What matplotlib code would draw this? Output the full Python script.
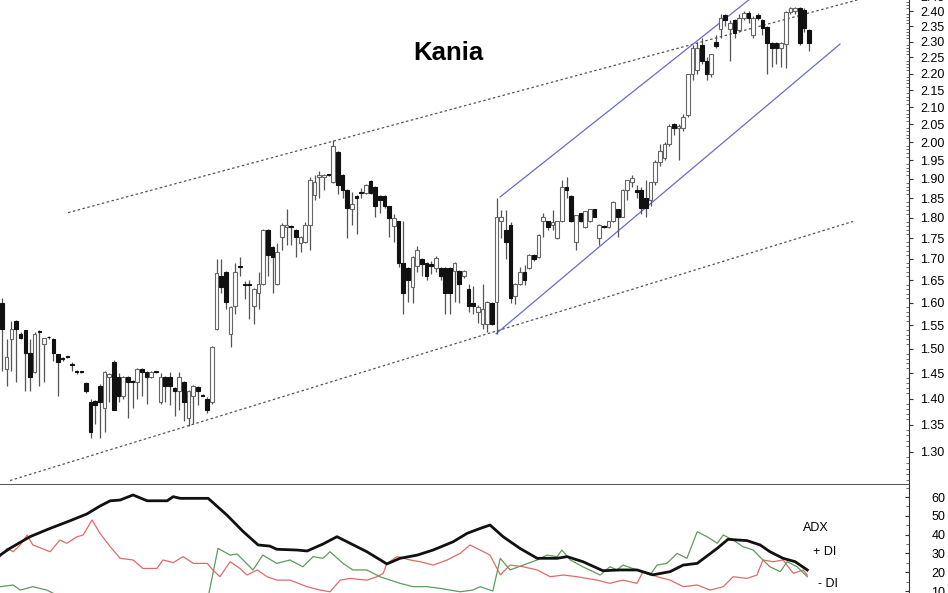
import numpy as np
import matplotlib.pyplot as plt
from matplotlib.ticker import FixedLocator, FixedFormatter, NullFormatter

plt.rcParams['font.family'] = ['Liberation Sans', 'DejaVu Sans']

# daily OHLC
opens = [1.600, 1.459, 1.521, 1.560, 1.532, 1.540, 1.492, 1.453, 1.536, 1.510,
         1.525, 1.521, 1.490, 1.480, 1.484, 1.468, 1.453, 1.453, 1.431, 1.394,
         1.396, 1.424, 1.381, 1.443, 1.472, 1.443, 1.404, 1.443, 1.433, 1.433,
         1.459, 1.453, 1.443, 1.453, 1.394, 1.443, 1.443, 1.420, 1.414, 1.433,
         1.362, 1.404, 1.422, 1.406, 1.400, 1.394, 1.542, 1.659, 1.670, 1.532,
         1.593, 1.682, 1.641, 1.641, 1.593, 1.622, 1.641, 1.771, 1.729, 1.641,
         1.753, 1.776, 1.779, 1.771, 1.739, 1.741, 1.783, 1.859, 1.906, 1.905,
         1.911, 1.893, 1.972, 1.911, 1.872, 1.821, 1.856, 1.867, 1.864, 1.895,
         1.880, 1.856, 1.856, 1.829, 1.779, 1.791, 1.690, 1.678, 1.634, 1.683,
         1.699, 1.690, 1.687, 1.678, 1.678, 1.678, 1.678, 1.671, 1.671, 1.659,
         1.630, 1.600, 1.578, 1.553, 1.553, 1.600, 1.602, 1.791, 1.771, 1.783,
         1.615, 1.641, 1.670, 1.678, 1.710, 1.704, 1.791, 1.791, 1.783, 1.750,
         1.791, 1.878, 1.856, 1.741, 1.811, 1.776, 1.791, 1.821, 1.750, 1.779,
         1.776, 1.791, 1.821, 1.803,
         1.870, 1.893, 1.872, 1.872, 1.850, 1.846, 1.893, 1.944, 1.955, 1.995,
         2.050, 2.040, 2.040, 2.078, 2.200, 2.210, 2.290, 2.240, 2.200, 2.300,
         2.340, 2.387, 2.340, 2.370, 2.337, 2.377, 2.393, 2.320, 2.387, 2.370,
         2.347, 2.297, 2.297, 2.280, 2.293, 2.397, 2.400, 2.410, 2.403, 2.337]
highs = [1.610, 1.521, 1.560, 1.562, 1.535, 1.540, 1.521, 1.535, 1.540, 1.523,
         1.528, 1.523, 1.490, 1.484, 1.486, 1.472, 1.456, 1.455, 1.433, 1.400,
         1.398, 1.428, 1.455, 1.450, 1.478, 1.450, 1.445, 1.445, 1.436, 1.460,
         1.461, 1.455, 1.455, 1.455, 1.450, 1.445, 1.453, 1.422, 1.453, 1.435,
         1.416, 1.426, 1.424, 1.408, 1.402, 1.506, 1.699, 1.699, 1.672, 1.592,
         1.690, 1.704, 1.648, 1.652, 1.632, 1.670, 1.773, 1.773, 1.731, 1.739,
         1.788, 1.821, 1.782, 1.773, 1.755, 1.790, 1.906, 1.911, 1.920, 1.913,
         1.913, 2.006, 1.975, 1.913, 1.874, 1.867, 1.858, 1.875, 1.887, 1.897,
         1.882, 1.858, 1.858, 1.831, 1.810, 1.793, 1.791, 1.680, 1.706, 1.730,
         1.701, 1.692, 1.695, 1.707, 1.680, 1.680, 1.680, 1.692, 1.673, 1.673,
         1.641, 1.637, 1.595, 1.641, 1.604, 1.602, 1.851, 1.820, 1.820, 1.790,
         1.643, 1.680, 1.685, 1.712, 1.712, 1.759, 1.813, 1.793, 1.820, 1.793,
         1.898, 1.906, 1.858, 1.808, 1.813, 1.818, 1.823, 1.823, 1.785, 1.781,
         1.793, 1.842, 1.823, 1.874,
         1.898, 1.911, 1.885, 1.880, 1.898, 1.893, 1.950, 1.996, 2.000, 2.050,
         2.055, 2.050, 2.080, 2.200, 2.290, 2.300, 2.310, 2.250, 2.260, 2.320,
         2.390, 2.390, 2.370, 2.375, 2.390, 2.400, 2.400, 2.385, 2.392, 2.375,
         2.350, 2.300, 2.300, 2.300, 2.400, 2.415, 2.415, 2.415, 2.410, 2.340]
lows = [1.455, 1.424, 1.455, 1.433, 1.520, 1.414, 1.414, 1.450, 1.424, 1.433,
        1.520, 1.474, 1.404, 1.474, 1.482, 1.455, 1.448, 1.451, 1.410, 1.325,
        1.352, 1.325, 1.336, 1.394, 1.377, 1.394, 1.400, 1.362, 1.381, 1.400,
        1.404, 1.390, 1.440, 1.451, 1.390, 1.394, 1.387, 1.366, 1.377, 1.356,
        1.347, 1.352, 1.387, 1.404, 1.372, 1.390, 1.540, 1.622, 1.585, 1.504,
        1.575, 1.659, 1.608, 1.564, 1.553, 1.585, 1.639, 1.659, 1.622, 1.639,
        1.722, 1.734, 1.734, 1.704, 1.717, 1.739, 1.722, 1.846, 1.850, 1.870,
        1.909, 1.890, 1.860, 1.850, 1.750, 1.783, 1.760, 1.850, 1.860, 1.860,
        1.803, 1.813, 1.825, 1.752, 1.740, 1.680, 1.574, 1.602, 1.600, 1.670,
        1.659, 1.650, 1.665, 1.670, 1.652, 1.574, 1.574, 1.602, 1.600, 1.655,
        1.579, 1.574, 1.556, 1.542, 1.536, 1.550, 1.532, 1.750, 1.700, 1.600,
        1.597, 1.639, 1.640, 1.676, 1.695, 1.702, 1.753, 1.770, 1.770, 1.748,
        1.789, 1.850, 1.789, 1.722, 1.789, 1.774, 1.789, 1.801, 1.734, 1.774,
        1.774, 1.789, 1.753, 1.801,
        1.846, 1.880, 1.850, 1.810, 1.803, 1.830, 1.885, 1.935, 1.950, 1.990,
        2.020, 1.951, 2.030, 2.070, 2.180, 2.200, 2.230, 2.180, 2.190, 2.280,
        2.310, 2.350, 2.240, 2.310, 2.330, 2.370, 2.360, 2.310, 2.370, 2.320,
        2.200, 2.220, 2.230, 2.220, 2.216, 2.390, 2.390, 2.290, 2.330, 2.270]
closes = [1.542, 1.484, 1.542, 1.542, 1.523, 1.492, 1.443, 1.532, 1.535, 1.523,
          1.524, 1.492, 1.472, 1.479, 1.483, 1.467, 1.452, 1.452, 1.414, 1.336,
          1.387, 1.394, 1.453, 1.449, 1.377, 1.404, 1.443, 1.433, 1.432, 1.459,
          1.453, 1.443, 1.453, 1.452, 1.443, 1.424, 1.424, 1.414, 1.443, 1.394,
          1.414, 1.424, 1.414, 1.405, 1.377, 1.504, 1.668, 1.634, 1.602, 1.590,
          1.670, 1.681, 1.640, 1.640, 1.630, 1.641, 1.771, 1.710, 1.704, 1.717,
          1.783, 1.783, 1.778, 1.753, 1.753, 1.783, 1.898, 1.893, 1.911, 1.911,
          1.910, 1.990, 1.883, 1.872, 1.826, 1.834, 1.851, 1.862, 1.885, 1.864,
          1.829, 1.846, 1.829, 1.799, 1.799, 1.690, 1.622, 1.652, 1.704, 1.722,
          1.687, 1.659, 1.683, 1.701, 1.659, 1.622, 1.622, 1.690, 1.641, 1.671,
          1.593, 1.593, 1.589, 1.585, 1.602, 1.553, 1.801, 1.801, 1.741, 1.611,
          1.641, 1.670, 1.652, 1.710, 1.700, 1.757, 1.801, 1.776, 1.790, 1.791,
          1.878, 1.872, 1.791, 1.806, 1.791, 1.816, 1.821, 1.803, 1.783, 1.776,
          1.791, 1.840, 1.801, 1.872,
          1.898, 1.903, 1.866, 1.826, 1.826, 1.893, 1.944, 1.974, 1.995, 2.045,
          2.040, 2.045, 2.070, 2.200, 2.280, 2.280, 2.240, 2.200, 2.260, 2.285,
          2.377, 2.370, 2.360, 2.327, 2.377, 2.393, 2.377, 2.377, 2.377, 2.343,
          2.297, 2.280, 2.280, 2.297, 2.397, 2.410, 2.410, 2.297, 2.343, 2.297]

# trend lines: (bar, price) anchors
up_dot_x, up_dot_y = [14.15, 194.4], [1.813, 2.485]
low_dot_x, low_dot_y = [1.7, 182.4], [1.249, 1.791]
chan_low_x, chan_low_y = [105.9, 179.6], [1.532, 2.292]
chan_up_x, chan_up_y = [106.75, 165.0], [1.853, 2.500]

# ADX / DI panel (bar, value)
adx_pos = [-0.4, 1.7, 6.0, 10.3, 14.6, 18.2, 21.0, 23.2, 25.3, 28.1, 31.1, 35.4, 36.7, 38.2, 44.2,
           48.2, 51.7, 54.9, 57.4, 58.9, 63.2, 65.4, 68.8, 71.8, 74.6, 78.2, 82.5, 85.3, 89.0, 92.4,
           96.7, 99.7, 102.5, 104.6, 107.4, 111.0, 114.7, 119.0, 121.1, 124.5, 128.8, 132.5, 136.1,
           139.5, 143.2, 146.0, 149.0, 153.3, 155.6, 159.7, 162.5, 164.6, 167.4, 170.0, 172.6]
adx_val = [29.1, 32.7, 38.9, 43.3, 47.4, 51.0, 55.2, 58.0, 58.4, 61.1, 58.0, 58.0, 60.2, 59.3, 59.3,
           50.4, 41.6, 34.5, 33.9, 32.2, 31.8, 31.3, 35.0, 38.9, 35.4, 30.9, 24.4, 27.4, 29.1, 31.8,
           36.2, 40.7, 43.3, 45.1, 38.9, 32.7, 27.4, 27.4, 28.3, 25.6, 20.8, 21.2, 21.2,
           18.6, 20.3, 23.8, 24.7, 32.7, 37.5, 36.8, 34.5, 30.9, 27.4, 25.6, 21.2]
red_pos = [-0.4, 1.1, 2.4, 3.9, 5.4, 6.6, 10.3, 12.4, 13.9, 16.1, 17.4, 19.3, 21.0, 23.2, 25.3,
           28.1, 30.2, 33.2, 34.5, 36.7, 38.8, 41.0, 44.0, 45.2, 46.7, 48.9, 51.0, 52.5, 54.7, 56.8,
           58.9, 61.7, 65.4, 68.2, 70.3, 72.5, 74.6, 78.2, 80.4, 81.7, 82.5, 84.7, 87.5, 89.6, 92.4,
           95.4, 98.2, 100.3, 102.5, 104.6, 106.8, 108.9, 111.7, 114.7, 117.5, 120.3, 123.3, 127.5,
           130.3, 133.1, 136.1, 137.4, 140.4, 143.2, 146.0, 149.0, 151.8, 154.6, 156.7, 159.7,
           161.8, 163.1, 165.3, 167.4, 169.6, 171.7, 172.6]
red_val = [28.2, 32.7, 30.9, 34.5, 39.8, 34.5, 30.9, 37.1, 35.4, 38.9, 39.8, 47.8, 40.7, 33.6, 27.4,
           26.5, 22.0, 22.0, 26.5, 25.1, 28.3, 24.7, 24.7, 21.2, 17.6, 25.6, 22.0, 18.5, 21.2, 17.6,
           15.8, 15.8, 12.3, 10.5, 9.6, 15.8, 16.7, 15.8, 17.6, 19.4, 24.7, 28.3, 26.5, 25.6, 23.8,
           26.5, 30.0, 34.5, 31.8, 29.1, 18.6, 23.8, 22.9, 21.2, 17.6, 18.5, 17.6, 15.8,
           14.1, 15.8, 14.1, 20.3, 17.6, 15.8, 12.3, 13.2, 10.5, 12.3, 17.6, 16.7,
           18.5, 26.5, 25.6, 26.5, 19.4, 21.2, 18.5]
green_pos = [-0.4, 2.4, 3.9, 6.6, 9.6, 12.4, 44.2, 46.3, 48.9, 50.4, 53.8, 55.9, 58.9, 61.7, 64.5,
             66.7, 68.8, 70.3, 73.1, 75.2, 78.2, 81.0, 83.2, 85.3, 88.1, 91.1, 93.9, 98.2, 100.9,
             102.5, 104.6, 105.2, 106.8, 107.4, 108.9, 111.7, 114.7, 116.8, 119.0, 120.0, 121.8,
             124.5, 128.2, 130.3, 131.8, 133.1, 136.1, 138.9, 140.4, 142.5, 144.7, 146.8, 149.0,
             151.1, 153.3, 154.6, 156.7, 158.8, 161.0, 163.1, 164.6, 166.8, 168.3, 170.4, 172.6]
green_val = [12.3, 13.2, 10.5, 12.3, 10.5, 7.0, 7.0, 32.7, 29.1, 29.7, 21.2, 29.1, 24.7, 26.5, 22.9,
             28.3, 27.4, 30.9, 24.7, 21.2, 21.2, 17.6, 15.8, 14.1, 12.3, 12.3, 11.4, 9.6, 10.5,
             12.3, 10.5, 10.0, 27.4, 25.6, 21.2, 23.8, 26.5, 29.1, 28.3, 31.8, 26.5,
             22.9, 18.5, 22.9, 21.2, 23.8, 21.2, 18.5, 23.8, 24.7, 30.0, 27.4, 41.5,
             38.9, 35.4, 39.8, 37.1, 33.6, 31.8, 26.5, 22.9, 20.3, 25.6, 22.9, 17.6]

price_ticks = np.round(np.arange(1.30, 2.451, 0.05), 2)
adx_ticks = [10, 20, 30, 40, 50, 60]

o = np.array(opens); h = np.array(highs); l = np.array(lows); c = np.array(closes)
x = np.arange(len(o))
up = c >= o

fig = plt.figure(figsize=(9.48, 5.93), dpi=100)
ax = fig.add_axes([0, 108 / 593, 909 / 948, 493 / 593])
ax2 = fig.add_axes([0, 0, 909 / 948, 108 / 593])

# candles
ax.vlines(x, l, h, color='#555555', lw=0.9, zorder=2)
body_lo = np.minimum(o, c)
body_h = np.maximum(np.abs(c - o), 0.002)
ax.bar(x[up], body_h[up], bottom=body_lo[up], width=0.78, color='white',
       edgecolor='#666666', lw=0.8, zorder=3)
ax.bar(x[~up], body_h[~up], bottom=body_lo[~up], width=0.78, color='#111111',
       edgecolor='#111111', lw=0.8, zorder=3)

ax.plot(up_dot_x, up_dot_y, ls=(0, (2, 2)), color='#555555', lw=0.9, zorder=1)
ax.plot(low_dot_x, low_dot_y, ls=(0, (2, 2)), color='#555555', lw=0.9, zorder=1)
ax.plot(chan_low_x, chan_low_y, color='#6b6bc8', lw=0.9, zorder=1)
ax.plot(chan_up_x, chan_up_y, color='#6b6bc8', lw=0.9, zorder=1)

ax.set_yscale('log')
ax.set_ylim(1.2413, 2.4643)
ax.set_xlim(-0.43, 194.4)
ax.set_xticks([])
ax.yaxis.tick_right()
ax.yaxis.set_major_locator(FixedLocator(price_ticks))
ax.yaxis.set_major_formatter(FixedFormatter([f'{t:.2f}' for t in price_ticks]))
ax.yaxis.set_minor_locator(FixedLocator(np.arange(1.25, 2.465, 0.01)))
ax.yaxis.set_minor_formatter(NullFormatter())
ax.tick_params(axis='y', which='major', direction='out', length=3, width=0.8,
               color='#333333', labelsize=9, pad=5)
ax.tick_params(axis='y', which='minor', direction='in', length=2, width=0.6, color='#555555')
for s in ['left', 'top']:
    ax.spines[s].set_visible(False)
ax.spines['right'].set_color('#333333')
ax.spines['right'].set_linewidth(0.8)
ax.spines['bottom'].set_color('#444444')
ax.spines['bottom'].set_linewidth(1.3)

fig.text(448 / 948, 1 - 53 / 593, 'Kania', ha='center', va='center',
         fontsize=18.5, fontweight='bold')

# ADX panel
ax2.plot(red_pos, red_val, color='#e06a6a', lw=0.9)
ax2.plot(green_pos, green_val, color='#5c9c5c', lw=0.9)
ax2.plot(adx_pos, adx_val, color='#111111', lw=2.0)
ax2.set_xlim(-0.43, 194.4)
ax2.set_ylim(8.94, 66.4)
ax2.set_xticks([])
ax2.yaxis.tick_right()
ax2.set_yticks(adx_ticks)
ax2.set_yticks([15, 25, 35, 45, 55, 65], minor=True)
ax2.tick_params(axis='y', which='major', direction='in', length=3, width=0.8,
                color='#333333', labelsize=9, pad=16)
ax2.tick_params(axis='y', which='minor', direction='in', length=2, width=0.6, color='#555555')
for s in ['left', 'top', 'bottom']:
    ax2.spines[s].set_visible(False)
ax2.spines['right'].set_color('#333333')
ax2.spines['right'].set_linewidth(0.8)

ax2.text(171.7, 43.5, 'ADX', fontsize=9, va='center', ha='left')
ax2.text(173.9, 30.7, '+ DI', fontsize=9, va='center', ha='left')
ax2.text(175.0, 13.8, '- DI', fontsize=9, va='center', ha='left')

fig.savefig('out.png', dpi=100)
